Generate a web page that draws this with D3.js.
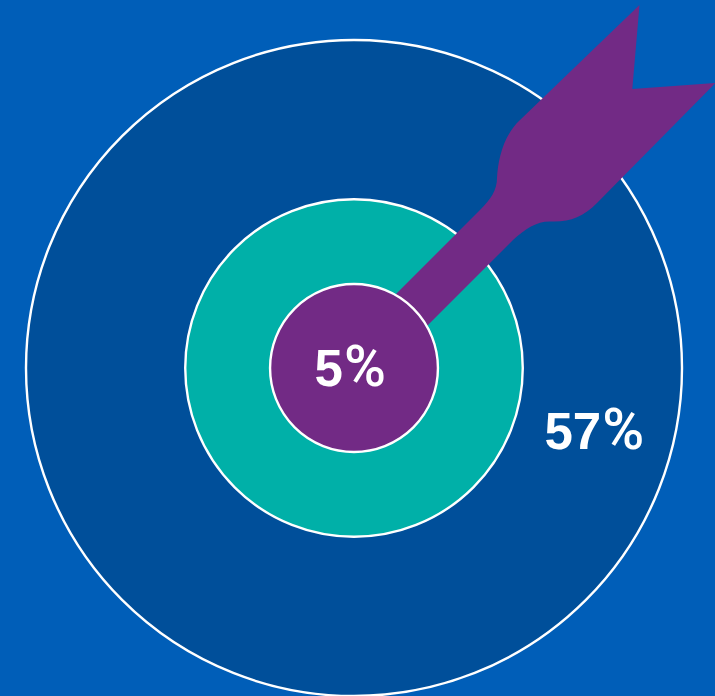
<!DOCTYPE html>
<html>
<head>
<meta charset="utf-8">
<script src="https://cdn.jsdelivr.net/npm/d3@7/dist/d3.min.js"></script>
<style>
  html, body { margin: 0; padding: 0; background: #005eb8; overflow: hidden; }
  svg { display: block; }
  text { fill: #fff; }
  .num { font-family: "Liberation Sans", Arial, sans-serif; font-weight: 700; font-size: 51px; }
  .pct { font-family: Roboto, "Liberation Sans", sans-serif; font-weight: 500; font-size: 57px; }
</style>
</head>
<body>
<svg id="chart"></svg>
<script>
// Nested target: each ring's share, outermost first.
const ringNames = ["Outer", "Middle", "Bull"];
const ringValues = [57, 17.4, 5];
const ringColors = ["#004f9a", "#00b0a8", "#722a85"];
const ringLabels = ["57%", null, "5%"];

const width = 715, height = 696;
const cx = 354, cy = 368;

const radius = d3.scalePow().exponent(0.56).domain([0, 57]).range([0, 328]);

const svg = d3.select("#chart").attr("width", width).attr("height", height);

svg.append("rect").attr("width", width).attr("height", height).attr("fill", "#005eb8");

const rings = ringValues.map((value, i) => ({
  name: ringNames[i], value, color: ringColors[i], label: ringLabels[i]
}));

// Outer and middle rings sit under the dart; the bull covers the shaft's point.
svg.selectAll("circle.ring")
  .data(rings.slice(0, 2))
  .join("circle")
  .attr("class", "ring")
  .attr("cx", cx).attr("cy", cy)
  .attr("r", d => radius(d.value))
  .attr("fill", d => d.color)
  .attr("stroke", "#fff")
  .attr("stroke-width", 2.4);

// Dart: shaft from the bull out to the flared, notched flight.
const dart = d3.path();
dart.moveTo(390, 300);
dart.lineTo(480, 210);
dart.bezierCurveTo(491, 199, 497, 190, 497, 178);
dart.bezierCurveTo(498, 160, 503, 136, 520, 120);
dart.lineTo(639.5, 5);
dart.lineTo(632.3, 89);
dart.lineTo(715.5, 83);
dart.lineTo(597, 203);
dart.bezierCurveTo(583, 217, 570, 222, 552, 221.5);
dart.bezierCurveTo(538, 220.5, 526, 228, 513, 240);
dart.lineTo(420, 333);
dart.closePath();
svg.append("path").attr("d", dart.toString()).attr("fill", ringColors[2]);

svg.append("circle")
  .attr("cx", cx).attr("cy", cy)
  .attr("r", radius(rings[2].value))
  .attr("fill", rings[2].color)
  .attr("stroke", "#fff")
  .attr("stroke-width", 2.4);

// Labels: bold digits with a taller, lighter percent sign.
function drawLabel(label, x, y) {
  const t = svg.append("text").attr("x", x).attr("y", y);
  t.append("tspan").attr("class", "num").text(label.slice(0, -1));
  t.append("tspan").attr("class", "pct").attr("dx", 1).text("%");
}
drawLabel(rings[2].label, 314.5, 386);
drawLabel(rings[0].label, 544.5, 449);
</script>
</body>
</html>
